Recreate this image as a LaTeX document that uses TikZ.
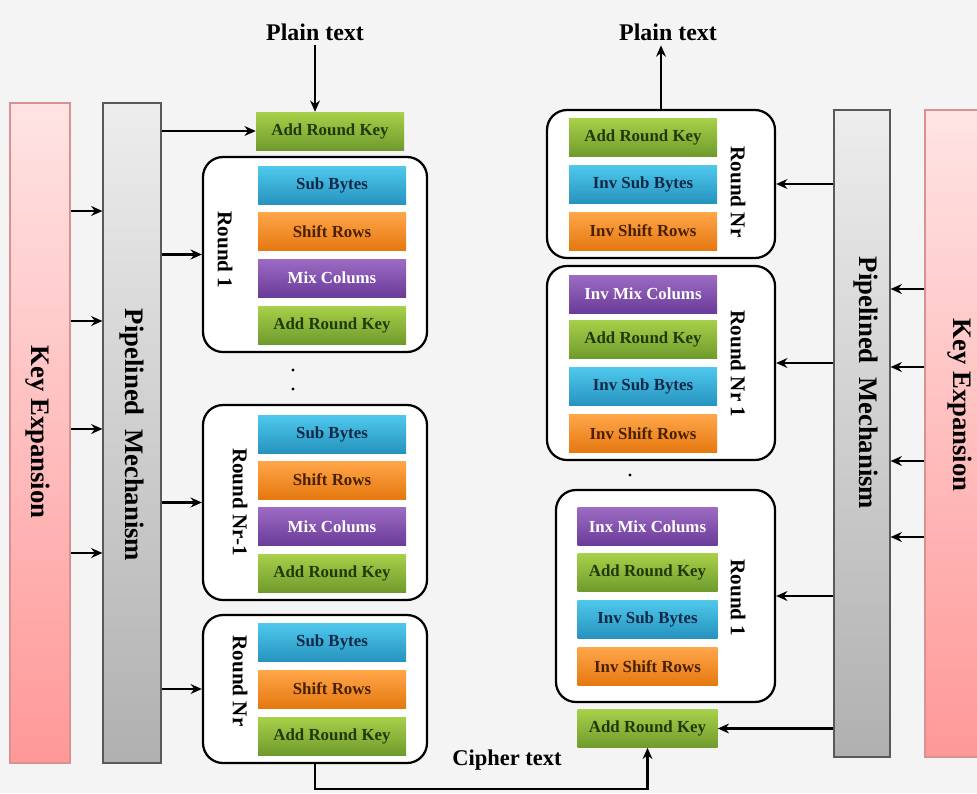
\documentclass[tikz,border=0pt]{standalone}
\usepackage{fontspec}
\setmainfont{Liberation Serif}
\usetikzlibrary{arrows.meta}

\definecolor{bgcol}{HTML}{F4F4F4}
\definecolor{grntop}{HTML}{A8D04A}
\definecolor{grnbot}{HTML}{6F9B2C}
\definecolor{grntxt}{HTML}{1F3A08}
\definecolor{blutop}{HTML}{4FC8EC}
\definecolor{blubot}{HTML}{2693BE}
\definecolor{blutxt}{HTML}{102848}
\definecolor{orgtop}{HTML}{FFA64A}
\definecolor{orgbot}{HTML}{E5780F}
\definecolor{orgtxt}{HTML}{4A2000}
\definecolor{purtop}{HTML}{9C6CC4}
\definecolor{purbot}{HTML}{6A3B98}
\definecolor{keytop}{HTML}{FFE4E4}
\definecolor{keybot}{HTML}{FF9898}
\definecolor{pipetop}{HTML}{EDEDED}
\definecolor{pipebot}{HTML}{B0B0B0}

\begin{document}
\begin{tikzpicture}[x=0.25mm,y=-0.25mm,>={Stealth[length=8pt,width=7pt]},
  op/.style={rectangle,minimum width=37mm,minimum height=9.5mm,inner sep=0pt,
    font=\fontsize{12}{14}\selectfont\bfseries},
  arkop/.style={op,top color=grntop,bottom color=grnbot,text=grntxt},
  subop/.style={op,top color=blutop,bottom color=blubot,text=blutxt},
  shiftop/.style={op,top color=orgtop,bottom color=orgbot,text=orgtxt},
  mixop/.style={op,top color=purtop,bottom color=purbot,text=white},
  rbox/.style={rectangle,draw,line width=1.6pt,rounded corners=5mm,fill=white,minimum width=56mm},
  keybar/.style={rectangle,top color=keytop,bottom color=keybot,draw=keybot!70!gray,line width=0.8pt},
  pipebar/.style={rectangle,top color=pipetop,bottom color=pipebot,draw=black!65,line width=0.8pt},
  vtext/.style={rotate=-90,font=\fontsize{19}{22}\selectfont\bfseries},
  rtext/.style={rotate=-90,font=\fontsize{15}{18}\selectfont\bfseries},
  ttext/.style={font=\fontsize{17}{20}\selectfont\bfseries},
  conn/.style={->,line width=1.6pt}]
\path[use as bounding box,fill=bgcol] (0,0) rectangle (977,793);
\clip (0,0) rectangle (977,793);

% encryption side
\path (40,433) node[keybar,minimum width=15mm,minimum height=165mm] (keyL) {};
\path (38,432) node[vtext] (keyLtxt) {Key Expansion};
\path (132,433) node[pipebar,minimum width=14.5mm,minimum height=165mm] (pipeL) {};
\path (132,435) node[vtext] (pipeLtxt) {Pipelined\ \ Mechanism};

\path (315,32) node[ttext] (ptL) {Plain text};
\path (330,131) node[arkop] (arkL0) {Add Round Key};

\path (315,254.5) node[rbox,minimum height=48.75mm] (r1L) {};
\path (332,185.5) node[subop] (subL1) {Sub Bytes};
\path (332,231.5) node[shiftop] (shiftL1) {Shift Rows};
\path (332,278) node[mixop] (mixL1) {Mix Colums};
\path (332,325) node[arkop] (arkL1) {Add Round Key};
\path (225,250) node[rtext] (r1Ltxt) {Round 1};

\fill (293,370) circle (1.6);
\fill (293,389) circle (1.6);

\path (315,502.5) node[rbox,minimum height=48.75mm] (rNm1L) {};
\path (332,434) node[subop] (subL2) {Sub Bytes};
\path (332,480) node[shiftop] (shiftL2) {Shift Rows};
\path (332,526.5) node[mixop] (mixL2) {Mix Colums};
\path (332,573) node[arkop] (arkL2) {Add Round Key};
\path (240,502) node[rtext] (rNm1Ltxt) {Round Nr-1};

\path (315,689) node[rbox,minimum height=37mm] (rNrL) {};
\path (332,642.5) node[subop] (subL3) {Sub Bytes};
\path (332,689) node[shiftop] (shiftL3) {Shift Rows};
\path (332,736) node[arkop] (arkL3) {Add Round Key};
\path (240,681) node[rtext] (rNrLtxt) {Round Nr};

\foreach \y in {211,321,429,553}
  \draw[conn] (keyL.east |- 0,\y) -- (pipeL.west |- 0,\y);
\draw[conn] (pipeL.east |- arkL0.west) -- (arkL0.west);
\draw[conn] (pipeL.east |- r1L.west) -- (r1L.west);
\draw[conn] (pipeL.east |- rNm1L.west) -- (rNm1L.west);
\draw[conn] (pipeL.east |- rNrL.west) -- (rNrL.west);
\draw[conn] (ptL.south) -- (ptL.south |- arkL0.north);

% decryption side
\path (960,433.5) node[keybar,minimum width=17.5mm,minimum height=161.75mm] (keyR) {};
\path (960,405) node[vtext] (keyRtxt) {Key Expansion};
\path (862,433.5) node[pipebar,minimum width=14mm,minimum height=161.75mm] (pipeR) {};
\path (866,383) node[vtext] (pipeRtxt) {Pipelined\ \ Mechanism};

\path (668,32) node[ttext] (ptR) {Plain text};

\path (661,184) node[rbox,minimum width=57mm,minimum height=37mm] (rNrR) {};
\path (643,137.5) node[arkop] (arkR3) {Add Round Key};
\path (643,184.5) node[subop] (isubR3) {Inv Sub Bytes};
\path (643,231) node[shiftop] (ishiftR3) {Inv Shift Rows};
\path (738,192) node[rtext] (rNrRtxt) {Round Nr};

\path (661,363) node[rbox,minimum width=57mm,minimum height=48.5mm] (rNr1R) {};
\path (643,294) node[mixop] (imixR2) {Inv Mix Colums};
\path (643,339) node[arkop] (arkR2) {Add Round Key};
\path (643,386.5) node[subop] (isubR2) {Inv Sub Bytes};
\path (643,433.5) node[shiftop] (ishiftR2) {Inv Shift Rows};
\path (738,364) node[rtext] (rNr1Rtxt) {Round Nr 1};

\fill (630,475) circle (1.6);

\path (665.5,596) node[rbox,minimum width=54.75mm,minimum height=53mm] (r1R) {};
\path (647.5,526.5) node[mixop,minimum width=35mm] (imixR1) {Inx Mix Colums};
\path (647.5,572.5) node[arkop,minimum width=35mm] (arkR1) {Add Round Key};
\path (647.5,619) node[subop,minimum width=35mm] (isubR1) {Inv Sub Bytes};
\path (647.5,666.5) node[shiftop,minimum width=35mm] (ishiftR1) {Inv Shift Rows};
\path (738,598) node[rtext] (r1Rtxt) {Round 1};

\path (647.5,728.5) node[arkop,minimum width=35mm] (arkR0) {Add Round Key};

\foreach \y in {289,367,461,537}
  \draw[conn] (keyR.west |- 0,\y) -- (pipeR.east |- 0,\y);
\draw[conn] (pipeR.west |- rNrR.east) -- (rNrR.east);
\draw[conn] (pipeR.west |- rNr1R.east) -- (rNr1R.east);
\draw[conn] (pipeR.west |- r1R.east) -- (r1R.east);
\draw[conn] (pipeR.west |- arkR0.east) -- (arkR0.east);
\draw[conn] (rNrR.north) -- (rNrR.north |- ptR.south);

% cipher text path
\path (507,760) node[font=\fontsize{16}{19}\selectfont\bfseries] (ctxt) {Cipher text};
\draw[conn] (rNrL.south) -- ++(0,25) -| (arkR0.south);
\end{tikzpicture}
\end{document}
